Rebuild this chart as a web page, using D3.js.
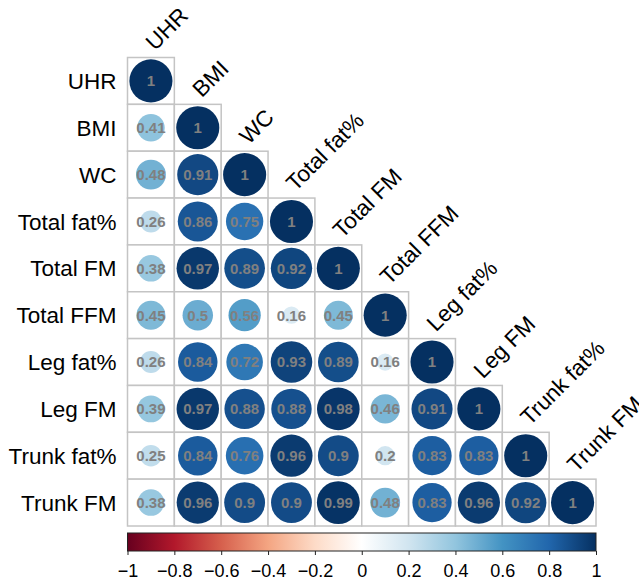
<!DOCTYPE html>
<html>
<head>
<meta charset="utf-8">
<script src="https://cdn.jsdelivr.net/npm/d3@7"></script>
<style>
  body { margin: 0; background: #fff; }
  svg { font-family: "Liberation Sans", Arial, sans-serif; }
</style>
</head>
<body>
<div id="wrapper"></div>
<script>
const variables = ["UHR", "BMI", "WC", "Total fat%", "Total FM", "Total FFM", "Leg fat%", "Leg FM", "Trunk fat%", "Trunk FM"];

// lower triangle, row by row (including diagonal)
const corrRows = [
    [1],
    [0.41, 1],
    [0.48, 0.91, 1],
    [0.26, 0.86, 0.75, 1],
    [0.38, 0.97, 0.89, 0.92, 1],
    [0.45, 0.5, 0.56, 0.16, 0.45, 1],
    [0.26, 0.84, 0.72, 0.93, 0.89, 0.16, 1],
    [0.39, 0.97, 0.88, 0.88, 0.98, 0.46, 0.91, 1],
    [0.25, 0.84, 0.76, 0.96, 0.9, 0.2, 0.83, 0.83, 1],
    [0.38, 0.96, 0.9, 0.9, 0.99, 0.48, 0.83, 0.96, 0.92, 1],
];

const legendTicks = [-1, -0.8, -0.6, -0.4, -0.2, 0, 0.2, 0.4, 0.6, 0.8, 1];
const rdbu = ["#67001F", "#B2182B", "#D6604D", "#F4A582", "#FDDBC7", "#FFFFFF", "#D1E5F0", "#92C5DE", "#4393C3", "#2166AC", "#053061"];

const dimensions = {
    width: 639,
    height: 585,
    gridLeft: 127.5,
    gridTop: 57.5,
    gridSize: 468.5,
}

const cells = [];
corrRows.forEach((row, i) => {
    row.forEach((v, j) => cells.push({ row: variables[i], col: variables[j], value: v }));
});

const svg = d3.select("#wrapper")
    .append("svg")
    .attr("width", dimensions.width)
    .attr("height", dimensions.height);

const xScale = d3.scaleBand()
    .domain(variables)
    .range([dimensions.gridLeft, dimensions.gridLeft + dimensions.gridSize]);

const yScale = d3.scaleBand()
    .domain(variables)
    .range([dimensions.gridTop, dimensions.gridTop + dimensions.gridSize]);

const step = xScale.bandwidth();

const colorScale = d3.scaleLinear()
    .domain(d3.range(rdbu.length).map(i => -1 + 2 * i / (rdbu.length - 1)))
    .range(rdbu)
    .interpolate(d3.interpolateRgb);

const rScale = d3.scaleSqrt()
    .domain([0, 1])
    .range([0, step * 0.46]);

// cell backgrounds / grid
svg.selectAll(".cell")
    .data(cells)
    .enter()
    .append("rect")
    .attr("class", "cell")
    .attr("x", d => xScale(d.col))
    .attr("y", d => yScale(d.row))
    .attr("width", step)
    .attr("height", step)
    .attr("fill", "#fff")
    .attr("stroke", "#c4c4c4")
    .attr("stroke-width", 1.5);

svg.selectAll(".dot")
    .data(cells)
    .enter()
    .append("circle")
    .attr("class", "dot")
    .attr("cx", d => xScale(d.col) + step / 2)
    .attr("cy", d => yScale(d.row) + step / 2)
    .attr("r", d => rScale(Math.abs(d.value)))
    .attr("fill", d => colorScale(d.value));

svg.selectAll(".num")
    .data(cells)
    .enter()
    .append("text")
    .attr("class", "num")
    .attr("x", d => xScale(d.col) + step / 2)
    .attr("y", d => yScale(d.row) + step / 2)
    .attr("dy", "0.36em")
    .attr("text-anchor", "middle")
    .attr("font-size", 15)
    .attr("font-weight", "bold")
    .attr("fill", "#808080")
    .text(d => d.value);

// row labels
svg.selectAll(".rowlab")
    .data(variables)
    .enter()
    .append("text")
    .attr("class", "rowlab")
    .attr("x", dimensions.gridLeft - 11)
    .attr("y", d => yScale(d) + step / 2)
    .attr("dy", "0.36em")
    .attr("text-anchor", "end")
    .attr("font-size", 22.5)
    .text(d => d);

// diagonal column labels
svg.selectAll(".collab")
    .data(variables)
    .enter()
    .append("text")
    .attr("class", "collab")
    .attr("transform", d => `translate(${xScale(d) + step / 2 + 4},${yScale(d) - 6}) rotate(-45)`)
    .attr("font-size", 22.5)
    .text(d => d);

// colour legend
const legend = {
    top: 533,
    height: 18,
}

const legendScale = d3.scaleLinear()
    .domain([-1, 1])
    .range([dimensions.gridLeft, dimensions.gridLeft + dimensions.gridSize]);

const grad = svg.append("defs")
    .append("linearGradient")
    .attr("id", "rdbu");

grad.selectAll("stop")
    .data(rdbu)
    .enter()
    .append("stop")
    .attr("offset", (d, i) => `${100 * i / (rdbu.length - 1)}%`)
    .attr("stop-color", d => d);

svg.append("rect")
    .attr("x", legendScale(-1))
    .attr("y", legend.top)
    .attr("width", legendScale(1) - legendScale(-1))
    .attr("height", legend.height)
    .attr("fill", "url(#rdbu)")
    .attr("stroke", "#222")
    .attr("stroke-width", 1);

const legendAxis = svg.append("g")
    .attr("transform", `translate(0,${legend.top + legend.height})`)
    .call(d3.axisBottom(legendScale)
        .tickValues(legendTicks)
        .tickSize(4)
        .tickPadding(9)
        .tickFormat(d => d3.format("")(d).replace("-", "\u2212")));

legendAxis.select(".domain").remove();
legendAxis.selectAll(".tick line").attr("stroke", "#222");
legendAxis.selectAll(".tick text")
    .attr("font-size", 18)
    .attr("font-family", "Liberation Sans, Arial, sans-serif")
    .attr("fill", "#000");
</script>
</body>
</html>
